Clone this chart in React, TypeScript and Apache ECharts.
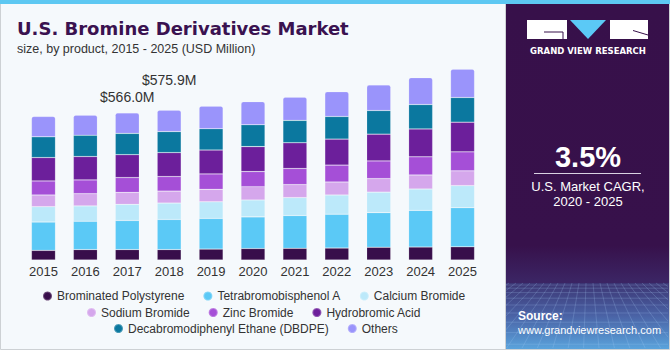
import React, { useEffect, useRef } from 'react';
import * as echarts from 'echarts';

const years = ['2015', '2016', '2017', '2018', '2019', '2020', '2021', '2022', '2023', '2024', '2025'];

const brominatedPolystyrene = [37, 40, 40, 40, 42, 44, 45, 46, 49, 50, 51];
const tetrabromobisphenolA = [109, 109, 112, 116, 118, 122, 126, 130, 133, 141, 150];
const calciumBromide = [59, 59, 62, 63, 64, 65, 69, 74, 79, 82, 85];
const sodiumBromide = [45, 47, 46, 46, 48, 51, 50, 50, 52, 54, 57];
const zincBromide = [54, 53, 57, 56, 59, 58, 62, 65, 68, 70, 73];
const hydrobromicAcid = [90, 90, 88, 92, 92, 96, 99, 100, 103, 107, 114];
const dbdpe = [80, 82, 82, 81, 82, 84, 86, 87, 91, 94, 95];
const others = [78, 77, 79, 82, 87, 89, 89, 95, 98, 103, 109];

const seriesNames = [
  'Brominated Polystyrene',
  'Tetrabromobisphenol A',
  'Calcium Bromide',
  'Sodium Bromide',
  'Zinc Bromide',
  'Hydrobromic Acid',
  'Decabromodiphenyl Ethane (DBDPE)',
  'Others',
];
const seriesData = [
  brominatedPolystyrene,
  tetrabromobisphenolA,
  calciumBromide,
  sodiumBromide,
  zincBromide,
  hydrobromicAcid,
  dbdpe,
  others,
];
const seriesColors = ['#380e4b', '#5bc9f6', '#bce9fa', '#d5a7ec', '#a54fd7', '#6c1f9b', '#0b789f', '#9a94fb'];

const totalLabelYears = ['2017', '2018'];
const totalLabelTexts = ['$566.0M', '$575.9M'];

const title = 'U.S. Bromine Derivatives Market';
const subtitle = 'size, by product, 2015 - 2025 (USD Million)';
const cagrValue = '3.5%';
const cagrLine1 = 'U.S. Market CAGR,';
const cagrLine2 = '2020 - 2025';

const FONT = '"Liberation Sans", Arial, sans-serif';
const HEAVY = '"DejaVu Sans", "Liberation Sans", sans-serif';

function buildMesh() {
  const els: any[] = [];
  const top = 283;
  const bottom = 348;
  const left = 506;
  const right = 668;
  let y = top + 2;
  let step = 2;
  while (y < bottom) {
    els.push({
      type: 'line',
      shape: { x1: left, y1: y, x2: right, y2: y },
      style: { stroke: 'rgba(170,205,245,0.28)', lineWidth: 0.8 },
      silent: true,
    });
    step += 1.2;
    y += step;
  }
  const cx = 588;
  for (let x0 = left - 60; x0 <= right + 60; x0 += 7) {
    let x1 = x0;
    let y1 = top;
    let x2 = cx + (x0 - cx) * 2.2;
    let y2 = bottom;
    const clip = (bx: number) => {
      const t = (bx - x1) / (x2 - x1);
      return y1 + t * (y2 - y1);
    };
    if (x1 < left) {
      if (x2 < left) continue;
      y1 = clip(left);
      x1 = left;
    }
    if (x1 > right) {
      if (x2 > right) continue;
      y1 = clip(right);
      x1 = right;
    }
    if (x2 < left) {
      y2 = y1 + ((left - x1) / (x2 - x1)) * (y2 - y1);
      x2 = left;
    }
    if (x2 > right) {
      y2 = y1 + ((right - x1) / (x2 - x1)) * (y2 - y1);
      x2 = right;
    }
    els.push({
      type: 'line',
      shape: { x1, y1, x2, y2 },
      style: { stroke: 'rgba(170,205,245,0.28)', lineWidth: 0.8 },
      silent: true,
    });
  }
  return els;
}

export default function App() {
  const ref = useRef<HTMLDivElement>(null);

  useEffect(() => {
    if (!ref.current) return;
    const chart = echarts.init(ref.current, undefined, { renderer: 'svg' });

    const series = seriesNames.map((name, si) => ({
      name,
      type: 'bar',
      stack: 'total',
      barWidth: 24,
      itemStyle: {
        color: seriesColors[si],
        borderColor: 'rgba(255,255,255,0.25)',
        borderWidth: 0.6,
        borderRadius: si === seriesNames.length - 1 ? [2, 2, 0, 0] : 0,
      },
      data: seriesData[si].map((v, i) => {
        const li = totalLabelYears.indexOf(years[i]);
        if (si === seriesNames.length - 1 && li >= 0) {
          return {
            value: v,
            label: {
              show: true,
              position: 'top',
              distance: li === 0 ? 9 : 23,
              formatter: totalLabelTexts[li],
              color: '#333333',
              fontSize: 14,
              fontFamily: FONT,
            },
          };
        }
        return v;
      }),
    }));

    const legendRows = [
      { names: seriesNames.slice(0, 3), left: 42, top: 290 },
      { names: seriesNames.slice(3, 6), left: 86, top: 306.5 },
      { names: seriesNames.slice(6, 8), left: 113, top: 322.5 },
    ];

    const option: any = {
      animation: false,
      backgroundColor: '#f5f9fc',
      grid: { left: 22.5, width: 461, top: 52, bottom: 90, containLabel: false },
      xAxis: {
        type: 'category',
        data: years,
        axisLine: { show: false },
        axisTick: { show: false },
        axisLabel: { color: '#333333', fontSize: 13, fontFamily: FONT, margin: 5 },
      },
      yAxis: {
        type: 'value',
        min: 0,
        max: 800,
        show: false,
        splitLine: { show: false },
      },
      legend: legendRows.map((r) => ({
        data: r.names,
        left: r.left,
        top: r.top,
        padding: 0,
        icon: 'circle',
        itemWidth: 9,
        itemHeight: 9,
        itemGap: 18,
        selectedMode: false,
        textStyle: { color: '#333333', fontSize: 12, fontFamily: FONT },
      })),
      series,
      graphic: [
        {
          type: 'rect',
          shape: { x: 0.5, y: 0.5, width: 669, height: 349 },
          style: { fill: 'none', stroke: '#cdd1d4', lineWidth: 1 },
          silent: true,
        },
        {
          type: 'rect',
          shape: { x: 0, y: 0, width: 670, height: 4 },
          style: { fill: '#5dc8f2' },
          silent: true,
        },
        {
          type: 'text',
          x: 17,
          y: 28,
          style: {
            text: title,
            fill: '#3a1250',
            font: `bold 18px ${HEAVY}`,
            verticalAlign: 'middle',
          },
          silent: true,
        },
        {
          type: 'text',
          x: 17,
          y: 49,
          style: {
            text: subtitle,
            fill: '#333333',
            font: `12.5px ${FONT}`,
            verticalAlign: 'middle',
          },
          silent: true,
        },
        {
          type: 'line',
          shape: { x1: 505.5, y1: 4, x2: 505.5, y2: 349 },
          style: { stroke: '#cdd1d4', lineWidth: 1 },
          silent: true,
        },
        {
          type: 'rect',
          shape: { x: 506, y: 4, width: 163, height: 345 },
          style: {
            fill: new echarts.graphic.LinearGradient(0, 0, 0, 1, [
              { offset: 0, color: '#37104a' },
              { offset: 0.7, color: '#37114b' },
              { offset: 0.8, color: '#3b2463' },
              { offset: 1, color: '#3d2f6e' },
            ]),
          },
          silent: true,
        },
        {
          type: 'rect',
          shape: { x: 506, y: 283, width: 163, height: 66 },
          style: {
            fill: new echarts.graphic.LinearGradient(0, 0, 0, 1, [
              { offset: 0, color: '#3c3573' },
              { offset: 0.5, color: '#4a63a6' },
              { offset: 1, color: '#5aa3dc' },
            ]),
          },
          silent: true,
        },
        ...buildMesh(),
        {
          type: 'rect',
          shape: { x: 527, y: 20, width: 40, height: 19 },
          style: { fill: '#ffffff' },
          silent: true,
        },
        {
          type: 'polyline',
          shape: { points: [[563, 39], [563, 32], [544, 32]] },
          style: { stroke: '#37104a', lineWidth: 1, fill: 'none' },
          silent: true,
        },
        {
          type: 'polygon',
          shape: { points: [[570, 20], [606, 20], [588, 39]] },
          style: { fill: '#5bc9f6' },
          silent: true,
        },
        {
          type: 'rect',
          shape: { x: 610, y: 20, width: 38, height: 19 },
          style: { fill: '#ffffff' },
          silent: true,
        },
        {
          type: 'line',
          shape: { x1: 633, y1: 30.5, x2: 648, y2: 35 },
          style: { stroke: '#37104a', lineWidth: 1 },
          silent: true,
        },
        {
          type: 'text',
          x: 588,
          y: 51,
          style: {
            text: 'GRAND VIEW RESEARCH',
            fill: '#ffffff',
            font: `bold 8.5px ${HEAVY}`,
            align: 'center',
            verticalAlign: 'middle',
          },
          silent: true,
        },
        {
          type: 'text',
          x: 588,
          y: 157,
          style: {
            text: cagrValue,
            fill: '#ffffff',
            font: `bold 29px ${FONT}`,
            align: 'center',
            verticalAlign: 'middle',
          },
          silent: true,
        },
        {
          type: 'line',
          shape: { x1: 534, y1: 173.5, x2: 641, y2: 173.5 },
          style: { stroke: '#d9d2e2', lineWidth: 1 },
          silent: true,
        },
        {
          type: 'text',
          x: 588,
          y: 186,
          style: {
            text: cagrLine1,
            fill: '#ffffff',
            font: `13px ${FONT}`,
            align: 'center',
            verticalAlign: 'middle',
          },
          silent: true,
        },
        {
          type: 'text',
          x: 588,
          y: 201,
          style: {
            text: cagrLine2,
            fill: '#ffffff',
            font: `13px ${FONT}`,
            align: 'center',
            verticalAlign: 'middle',
          },
          silent: true,
        },
        {
          type: 'text',
          x: 518,
          y: 316,
          style: {
            text: 'Source:',
            fill: '#ffffff',
            font: `bold 12px ${FONT}`,
            verticalAlign: 'middle',
          },
          silent: true,
        },
        {
          type: 'text',
          x: 518,
          y: 330,
          style: {
            text: 'www.grandviewresearch.com',
            fill: '#ffffff',
            font: `11px ${FONT}`,
            verticalAlign: 'middle',
          },
          silent: true,
        },
      ],
    };

    chart.setOption(option);
    return () => chart.dispose();
  }, []);

  return (
    <div
      ref={ref}
      style={{ position: 'fixed', left: 0, top: 0, width: 670, height: 350 }}
    />
  );
}
